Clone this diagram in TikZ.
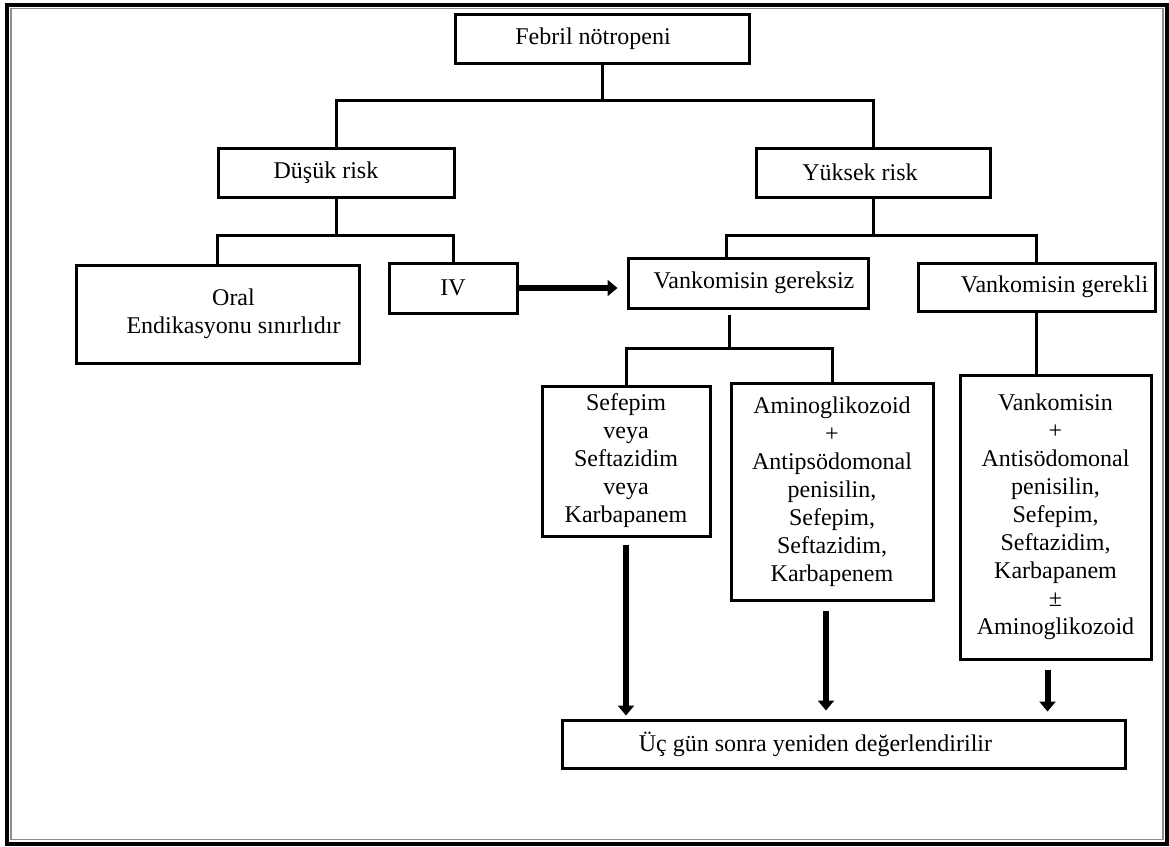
\documentclass[tikz,border=0pt]{standalone}
\usepackage{fontspec}
\setmainfont{Liberation Serif}
\usetikzlibrary{arrows.meta}
\begin{document}
\begin{tikzpicture}[x=1pt,y=-1pt,
  box/.style={draw=black,line width=3pt,inner sep=0pt,align=center,
    font=\fontsize{24pt}{28pt}\selectfont},
  link/.style={draw=black,line width=3pt},
  bigarrow/.style={draw=black,line width=6pt,-{Triangle[width=16pt,length=10pt]}}]
\useasboundingbox (0,0) rectangle (1169,846);
% outer frame
\draw[line width=4pt,black] (6.5,4.5) rectangle (1167,844);
\draw[line width=1.5pt,black!45] (11,8.5) rectangle (1163,839.5);
% boxes
\node[box,minimum width=294pt,minimum height=49pt] (febril) at (602,38.5) {Febril nötropeni\hspace*{18pt}};
\node[box,minimum width=236pt,minimum height=49pt] (dusuk) at (336,172.5) {Düşük risk\hspace*{20pt}};
\node[box,minimum width=234pt,minimum height=49pt] (yuksek) at (873,172.5) {Yüksek risk\hspace*{26pt}};
\node[box,minimum width=283pt,minimum height=98pt] (oral) at (217.5,314) {\hspace*{32pt}Oral\\\hspace*{32pt}Endikasyonu sınırlıdır};
\node[box,minimum width=128pt,minimum height=50pt] (iv) at (453,288) {IV};
\node[box,minimum width=240pt,minimum height=50pt] (gereksiz) at (748,283) {\hspace*{12pt}Vankomisin gereksiz};
\node[box,minimum width=237pt,minimum height=48pt] (gerekli) at (1036.5,287) {\hspace*{36pt}Vankomisin gerekli};
\node[box,minimum width=168pt,minimum height=150pt] (sefepim) at (626,461) {Sefepim\\veya\\Seftazidim\\veya\\Karbapanem};
\node[box,minimum width=202pt,minimum height=217pt] (amino) at (832,491.5) {Aminoglikozoid\\+\\Antipsödomonal\\penisilin,\\Sefepim,\\Seftazidim,\\Karbapenem};
\node[box,minimum width=191pt,minimum height=284pt] (vanko) at (1055.5,517) {Vankomisin\\+\\Antisödomonal\\penisilin,\\Sefepim,\\Seftazidim,\\Karbapanem\\±\\Aminoglikozoid};
\node[box,minimum width=563pt,minimum height=48pt] (uc) at (843.5,744) {Üç gün sonra yeniden değerlendirilir\hspace*{56pt}};
% junctions
\coordinate (j1) at (602,100);
\coordinate (j2) at (336,235);
\coordinate (j3) at (873,235);
\coordinate (j4) at (729,348);
% connectors
\draw[link] (febril.south) -- (j1);
\draw[link] (dusuk.north) |- (j1) -| (yuksek.north);
\draw[link] (dusuk.south) -- (j2);
\draw[link] (oral.north) |- (j2) -| (iv.north);
\draw[link] (yuksek.south) -- (j3);
\draw[link] ([xshift=-22pt]gereksiz.north) |- (j3) -| (gerekli.north);
\draw[link] ([xshift=-19pt,yshift=-5pt]gereksiz.south) -- (j4);
\draw[link] (sefepim.north) |- (j4) -| (amino.north);
\draw[link] (gerekli.south) -- (gerekli.south |- vanko.north);
% arrows
\draw[bigarrow,shorten >=9pt] (iv.east) -- (iv.east -| gereksiz.west);
\draw[bigarrow,shorten <=7pt,shorten >=3pt] (sefepim.south) -- (sefepim.south |- uc.north);
\draw[bigarrow,shorten <=9pt,shorten >=8pt] ([xshift=-6pt]amino.south) -- ([xshift=-6pt]amino.south |- uc.north);
\draw[bigarrow,shorten <=9pt,shorten >=7pt] ([xshift=-8pt]vanko.south) -- ([xshift=-8pt]vanko.south |- uc.north);
\end{tikzpicture}
\end{document}
